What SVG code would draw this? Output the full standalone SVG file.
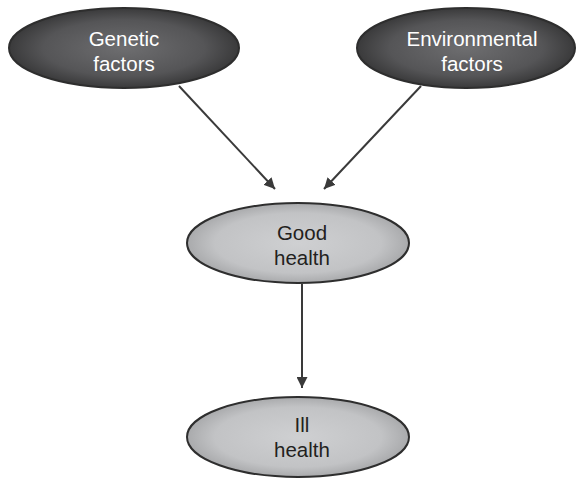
<svg xmlns="http://www.w3.org/2000/svg" width="577" height="479" viewBox="0 0 577 479">
<defs>
<radialGradient id="dark" cx="50%" cy="50%" r="50%">
<stop offset="0" stop-color="#6e6e70"/>
<stop offset="0.7" stop-color="#555557"/>
<stop offset="1" stop-color="#3a3a3b"/>
</radialGradient>
<radialGradient id="light" cx="50%" cy="50%" r="50%">
<stop offset="0" stop-color="#cfd0d2"/>
<stop offset="0.75" stop-color="#c2c3c5"/>
<stop offset="1" stop-color="#a9aaac"/>
</radialGradient>
<marker id="arr" viewBox="0 0 10 10" refX="10" refY="5" markerWidth="5.5" markerHeight="5.5" orient="auto" markerUnits="strokeWidth">
<path d="M0,0 L10,5 L0,10 z" fill="#3a3a3a"/>
</marker>
</defs>
<style>
.dk{fill:url(#dark);stroke:#2e2e2e;stroke-width:2}
.lt{fill:url(#light);stroke:#2e2e2e;stroke-width:2}
.tw{font-family:"Liberation Sans",Arial,sans-serif;font-size:20.5px;fill:#ffffff;text-anchor:middle}
.tb{font-family:"Liberation Sans",Arial,sans-serif;font-size:20.5px;fill:#231f20;text-anchor:middle}
.c{stroke:#3a3a3a;stroke-width:2;fill:none;marker-end:url(#arr)}
</style>
<rect width="577" height="479" fill="#ffffff"/>
<g id="connectors">
<line class="c" x1="179" y1="86" x2="275" y2="189"/>
<line class="c" x1="421" y1="86" x2="324" y2="189"/>
<line class="c" x1="302" y1="284" x2="302" y2="388"/>
</g>
<g id="genetic">
<ellipse class="dk" cx="124" cy="48" rx="115" ry="40"/>
<text class="tw" x="124" y="46">Genetic</text>
<text class="tw" x="124" y="71">factors</text>
</g>
<g id="environmental">
<ellipse class="dk" cx="466" cy="48" rx="109" ry="40"/>
<text class="tw" x="472" y="46">Environmental</text>
<text class="tw" x="472" y="71">factors</text>
</g>
<g id="good">
<ellipse class="lt" cx="298" cy="243" rx="111" ry="40"/>
<text class="tb" x="302" y="240">Good</text>
<text class="tb" x="302" y="265">health</text>
</g>
<g id="ill">
<ellipse class="lt" cx="298" cy="437" rx="111" ry="40"/>
<text class="tb" x="302" y="432">Ill</text>
<text class="tb" x="302" y="457">health</text>
</g>
</svg>
